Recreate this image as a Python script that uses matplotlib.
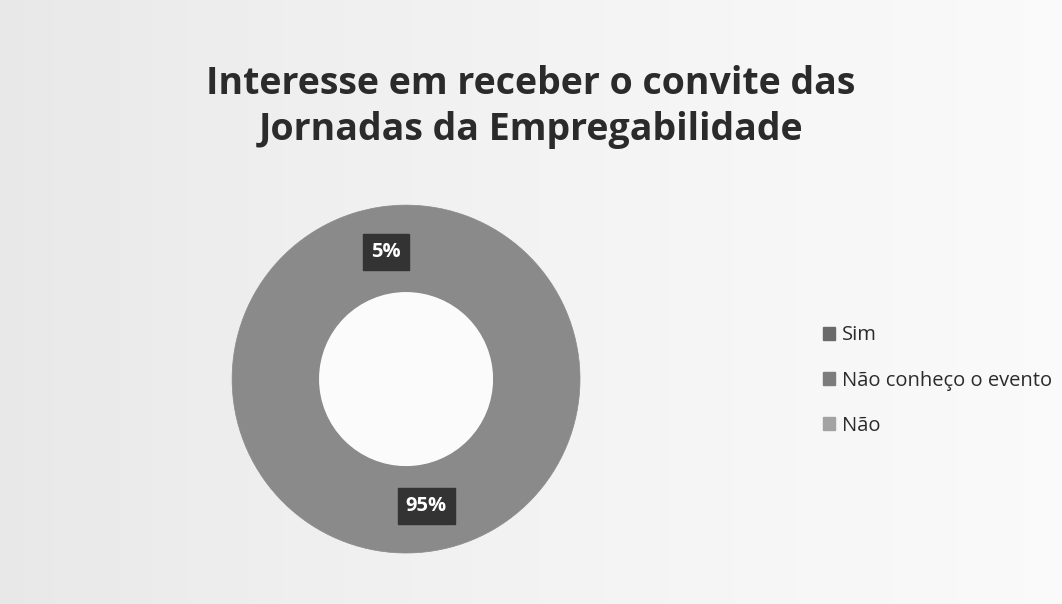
import numpy as np
import matplotlib.pyplot as plt
from matplotlib.patches import Patch, Circle

categorias = ['Sim', 'Não conheço o evento', 'Não']
valores = [95, 0, 5]
cores_fatias = ['#8a8a8a', '#8a8a8a', '#8a8a8a']
cores_legenda = ['#6a6a6a', '#7c7c7c', '#a3a3a3']

titulo = 'Interesse em receber o convite das\nJornadas da Empregabilidade'

fig = plt.figure(figsize=(10.62, 6.04), dpi=100)

# fundo com gradiente leve (cinza a esquerda, mais claro a direita)
bg = fig.add_axes([0, 0, 1, 1])
grad = np.linspace(0, 1, 256)
grad = np.vstack([grad, grad])
bg.imshow(grad, aspect='auto', cmap='Greys_r', vmin=-6.5, vmax=1.3, extent=[0, 1, 0, 1])
bg.axis('off')

ax = fig.add_axes([0.2185, 0.0844, 0.3277, 0.576])
wedges, textos = ax.pie(valores, colors=cores_fatias, startangle=90, counterclock=False,
                        radius=1, wedgeprops=dict(width=0.5, edgecolor='#8a8a8a', linewidth=0.5))
ax.add_patch(Circle((0, 0), 0.5, facecolor='#fbfbfb', edgecolor='none'))
ax.set_xlim(-1, 1)
ax.set_ylim(-1, 1)
ax.set_aspect('equal')
ax.axis('off')

total = sum(valores)
for w, v in zip(wedges, valores):
    if v == 0:
        continue
    ang = np.deg2rad((w.theta1 + w.theta2) / 2)
    ax.text(0.74 * np.cos(ang), 0.74 * np.sin(ang), f'{v / total * 100:.0f}%',
            ha='center', va='center', color='white', fontsize=14.5, family='Open Sans',
            fontweight='bold',
            bbox=dict(boxstyle='square,pad=0.4', facecolor='#333333', edgecolor='#333333'))

fig.text(0.5, 0.823, titulo, ha='center', va='center', fontsize=27, fontweight='bold',
         family='Open Sans', color='#2b2b2b', linespacing=1.3)

handles = [Patch(facecolor=c, edgecolor=c) for c in cores_legenda]
leg = fig.legend(handles, categorias, loc='center left', bbox_to_anchor=(0.758, 0.37),
                 frameon=False, handlelength=0.6, handleheight=0.6,
                 handletextpad=0.35, labelspacing=1.25,
                 prop={'family': 'Open Sans', 'size': 14.5})
for t in leg.get_texts():
    t.set_color('#2b2b2b')

fig.savefig('out.png', dpi=100)
